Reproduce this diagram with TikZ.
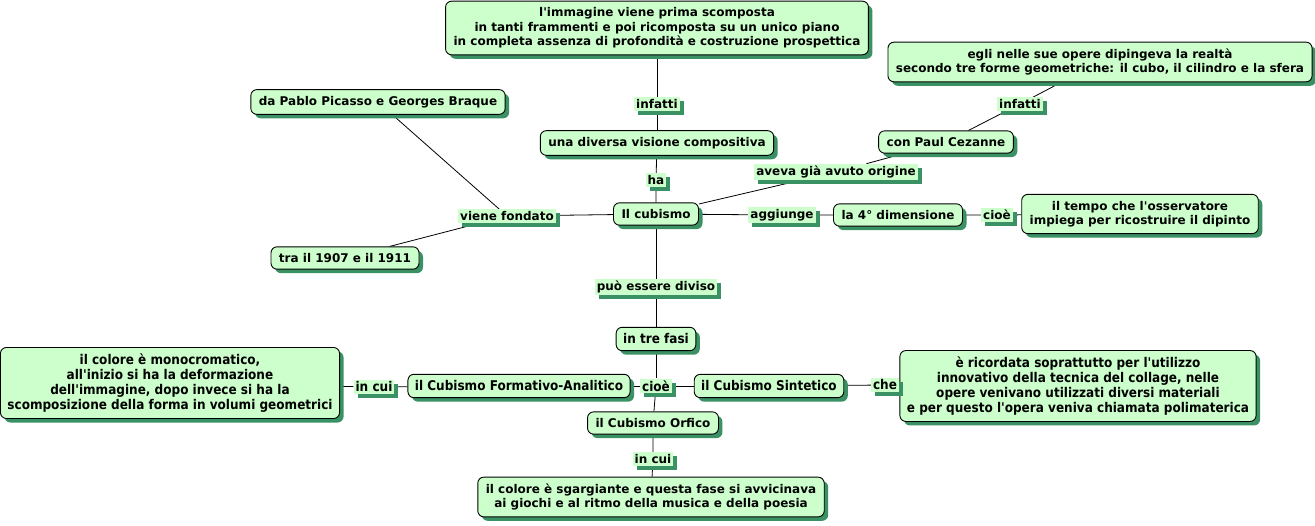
\documentclass[tikz,border=0pt]{standalone}
\usepackage{fontspec}
\setmainfont{DejaVu Sans}[BoldFont={DejaVu Sans Bold}]
\newfontfamily\condfont{DejaVu Sans Condensed Bold}
\usetikzlibrary{shadows,backgrounds}
\newcommand\ap{\textquotesingle}
\definecolor{boxgreen}{RGB}{204,255,204}
\definecolor{shadowgreen}{RGB}{58,145,100}
\tikzset{
  box/.style={draw=black, line width=0.9pt, rounded corners=6pt, fill=boxgreen,
    align=center, inner xsep=8pt, inner ysep=6.5pt, font=\fontsize{12}{14.5}\selectfont\bfseries,
    drop shadow={fill=shadowgreen, opacity=1, shadow xshift=4pt, shadow yshift=-4pt}},
  cbox/.style={box, inner xsep=7pt, font=\fontsize{13.4}{14.8}\condfont},
  lab/.style={fill=boxgreen, inner xsep=2pt, inner ysep=2pt, font=\fontsize{12}{13}\selectfont\bfseries,
    drop shadow={fill=shadowgreen, opacity=1, shadow xshift=4pt, shadow yshift=-4pt}},
  clab/.style={lab, font=\fontsize{13.4}{13}\condfont},
  conn/.style={draw=black, line width=0.8pt}
}
\begin{document}
\begin{tikzpicture}[x=1pt,y=-1pt]
\useasboundingbox (0,0) rectangle (1315,526);
% boxes
\node[box] (top) at (657,28) {l\ap immagine viene prima scomposta\\in tanti frammenti e poi ricomposta su un unico piano\\in completa assenza di profondità e costruzione prospettica};
\node[box] (vis) at (657,143) {una diversa visione compositiva};
\node[box] (cub) at (656,214) {Il cubismo};
\node[box] (pic) at (378,102) {da Pablo Picasso e Georges Braque};
\node[box] (anni) at (345,258) {tra il 1907 e il 1911};
\node[box] (cez) at (946,142) {con Paul Cezanne};
\node[box] (egli) at (1100,62) {egli nelle sue opere dipingeva la realtà\\secondo tre forme geometriche: il cubo, il cilindro e la sfera};
\node[box] (dim) at (898,215) {la 4\textdegree{} dimensione};
\node[box] (tempo) at (1140,214) {il tempo che l\ap osservatore\\impiega per ricostruire il dipinto};
\node[cbox] (fasi) at (656,339) {in tre fasi};
\node[cbox] (form) at (519,386) {il Cubismo Formativo-Analitico};
\node[cbox] (left) at (170,383) {il colore è monocromatico,\\all\ap inizio si ha la deformazione\\dell\ap immagine, dopo invece si ha la\\scomposizione della forma in volumi geometrici};
\node[cbox] (sint) at (769,386) {il Cubismo Sintetico};
\node[cbox] (right) at (1078,386) {è ricordata soprattutto per l\ap utilizzo\\innovativo della tecnica del collage, nelle\\opere venivano utilizzati diversi materiali\\e per questo l\ap opera veniva chiamata polimaterica};
\node[box] (orf) at (653,423) {il Cubismo Orfico};
\node[box] (bot) at (651,497) {il colore è sgargiante e questa fase si avvicinava\\ai giochi e al ritmo della musica e della poesia};
% labels
\node[lab] (l1) at (657,104) {infatti};
\node[lab] (l2) at (656,180) {ha};
\node[lab] (l3) at (507,216) {viene fondato};
\node[lab] (l4) at (836,172) {aveva già avuto origine};
\node[lab] (l5) at (1020,104) {infatti};
\node[lab] (l6) at (782,215) {aggiunge};
\node[lab] (l7) at (997,215) {cioè};
\node[lab] (l8) at (656,287) {può essere diviso};
\node[clab] (l9) at (656,386) {cioè};
\node[clab] (l10) at (374,387) {in cui};
\node[clab] (l11) at (885,385) {che};
\node[lab] (l12) at (653,459) {in cui};
% connectors
\begin{scope}[on background layer]
\draw[conn] (top) -- (l1) -- (vis);
\draw[conn] (vis) -- (l2) -- (cub);
\draw[conn] (pic) -- (l3);
\draw[conn] (l3) -- (anni);
\draw[conn] (l3) -- (cub);
\draw[conn] (cub) -- (l4) -- (cez);
\draw[conn] (cez) -- (l5) -- (egli);
\draw[conn] (cub) -- (l6) -- (dim) -- (l7) -- (tempo);
\draw[conn] (cub) -- (l8) -- (fasi);
\draw[conn] (fasi) -- (l9);
\draw[conn] (l9) -- (form);
\draw[conn] (l9) -- (sint);
\draw[conn] (l9) -- (orf);
\draw[conn] (form) -- (l10) -- (left);
\draw[conn] (sint) -- (l11) -- (right);
\draw[conn] (orf) -- (l12) -- (bot);
\end{scope}
\end{tikzpicture}
\end{document}
